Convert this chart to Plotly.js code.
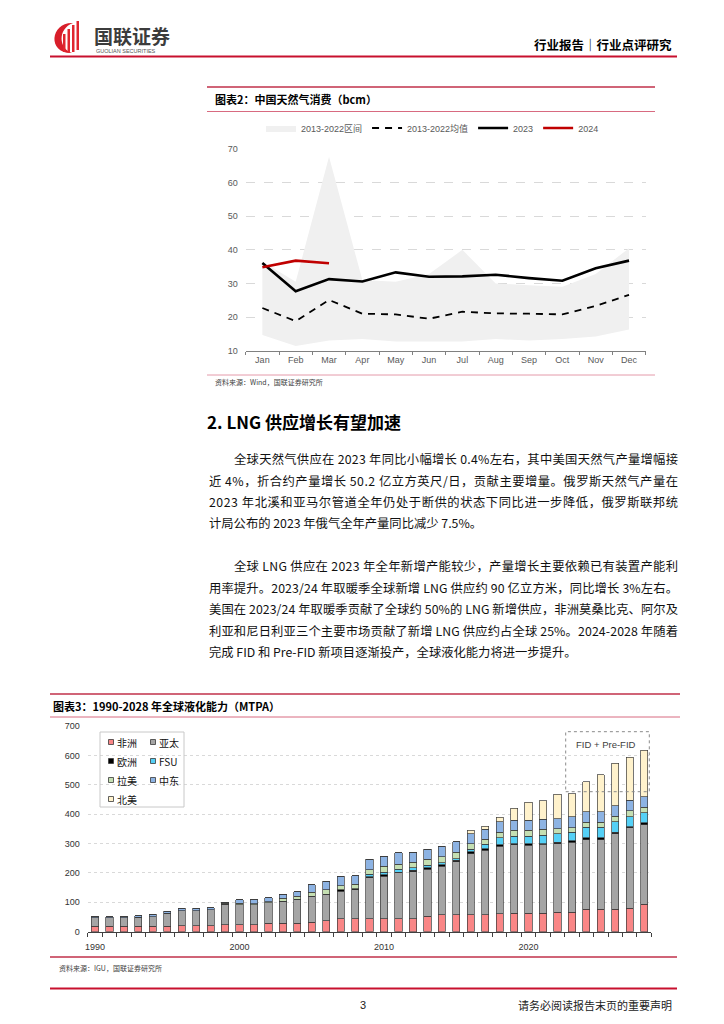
<!DOCTYPE html>
<html><head><meta charset="utf-8">
<script src="https://cdn.plot.ly/plotly-3.0.1.min.js"></script>
<style>html,body{margin:0;padding:0;background:#fff}#page{width:724px;height:1024px}</style>
</head><body><div id="page"></div>
<script>
// ---------- Chart 1: 中国天然气消费 (bcm) ----------
const months = ['Jan','Feb','Mar','Apr','May','Jun','Jul','Aug','Sep','Oct','Nov','Dec'];
const rangeLow  = [14.7, 11.4, 13.0, 13.5, 12.7, 12.7, 12.7, 13.5, 13.0, 13.5, 14.2, 16.3];
const rangeHigh = [36.5, 30.5, 67.7, 31.0, 30.5, 32.8, 40.0, 30.0, 29.5, 29.0, 32.8, 40.5];
const avg1322   = [22.7, 18.8, 25.1, 21.0, 20.8, 19.5, 21.6, 21.1, 21.0, 20.8, 23.3, 26.6];
const cons2023  = [36.1, 27.7, 31.3, 30.6, 33.3, 32.0, 32.1, 32.6, 31.6, 30.8, 34.5, 36.8];
const cons2024  = [34.8, 36.8, 36.0];
const chart1Names = ['2013-2022区间','2013-2022均值','2023','2024'];

// ---------- Chart 2: 1990-2028 全球液化能力 (MTPA) ----------
const years = [1990,1991,1992,1993,1994,1995,1996,1997,1998,1999,2000,2001,2002,2003,2004,2005,2006,2007,2008,2009,2010,2011,2012,2013,2014,2015,2016,2017,2018,2019,2020,2021,2022,2023,2024,2025,2026,2027,2028];
const africa  = [19,19,19,19,19,19,20,20,20,24,24,24,28,28,28,33,37,44,44,44,44,44,44,53,57,57,57,57,61,62,62,62,66,66,76,76,76,79,93];
const asiaPac = [28,28,28,31,32,44,52,52,54,69,68,67,70,76,82,87,90,94,98,139,144,156,160,159,166,181,209,221,230,234,232,235,234,238,237,237,257,274,271];
const europe  = [0,0,0,0,0,0,0,0,0,0,0,0,0,0,0,0,0,5,4,4,5,3,5,6,5,5,6,5,5,3,5,3,5,6,6,6,5,4,6];
const fsu     = [0,0,0,0,0,0,0,0,0,0,0,0,0,0,0,0,0,0,0,8,9,9,8,8,7,6,8,14,23,25,25,28,28,28,36,36,37,35,35];
const latam   = [0,0,0,0,0,0,0,0,0,3,4,4,4,9,10,15,15,14,15,15,20,18,19,20,20,22,19,18,20,21,21,20,17,16,18,18,18,20,19];
const mideast = [4,4,4,5,8,7,7,7,8,5,12,13,14,14,16,25,29,31,30,36,34,38,35,34,36,35,35,33,35,35,35,34,35,37,35,35,36,35,35];
const northAm = [0,0,0,0,0,0,0,0,0,0,0,0,0,0,0,0,0,0,0,0,0,0,0,0,0,0,11,11,15,40,60,64,82,79,103,126,145,146,158];
const regionNames = ['非洲','亚太','欧洲','FSU','拉美','中东','北美'];
const yearTicks = [1990,2000,2010,2020];

const regionSeries = [africa, asiaPac, europe, fsu, latam, mideast, northAm];
const regionColors = ['#F98686','#A5A5A5','#000000','#55D0F6','#C5DFB2','#8DB3E3','#FFF2CC'];

const W = 724, H = 1024;
const px = x => x / W, py = y => 1 - y / H;
const CJK = "'Noto Sans CJK SC', 'Liberation Sans', sans-serif";
const LAT = "'Liberation Sans', 'Noto Sans CJK SC', sans-serif";

const traces = [];
traces.push({x: months, y: rangeLow, type:'scatter', mode:'lines', line:{width:0, color:'#F2F2F2'}, showlegend:false, hoverinfo:'skip', xaxis:'x', yaxis:'y'});
traces.push({x: months, y: rangeHigh, type:'scatter', mode:'lines', fill:'tonexty', fillcolor:'#F0F0F0', line:{width:0, color:'#F0F0F0'}, name: chart1Names[0], xaxis:'x', yaxis:'y'});
traces.push({x: months, y: avg1322, type:'scatter', mode:'lines', line:{width:1.8, color:'#000', dash:'7px,6px'}, name: chart1Names[1], xaxis:'x', yaxis:'y'});
traces.push({x: months, y: cons2023, type:'scatter', mode:'lines', line:{width:2.6, color:'#000'}, name: chart1Names[2], xaxis:'x', yaxis:'y'});
traces.push({x: months.slice(0, cons2024.length), y: cons2024, type:'scatter', mode:'lines', line:{width:2.6, color:'#C00000'}, name: chart1Names[3], xaxis:'x', yaxis:'y'});

regionSeries.forEach((s, i) => {
  traces.push({x: years, y: s, type:'bar', name: regionNames[i], width:0.5, showlegend:false,
    marker:{color: regionColors[i], line:{color:'#3A3A3A', width:0.7}}, xaxis:'x2', yaxis:'y2'});
});

// text justification helper
const ctx = document.createElement('canvas').getContext('2d');
function justify(line, size, target, family){
  ctx.font = size + 'px ' + family;
  const w = ctx.measureText(line).width;
  const n = Array.from(line).length;
  let ls = (target - w) / (n - 1);
  ls = Math.max(-1.5, Math.min(3, ls));
  return '<span style="letter-spacing:' + ls.toFixed(3) + 'px">' + line + '</span>';
}

const shapes = [];
const annotations = [];
function hline(x0, x1, y, color, width){
  shapes.push({type:'line', xref:'paper', yref:'paper', x0:px(x0), x1:px(x1), y0:py(y), y1:py(y), line:{color:color, width:width}});
}
function txt(x, y, text, size, opts){
  annotations.push(Object.assign({xref:'paper', yref:'paper', x:px(x), y:py(y), text:text, showarrow:false,
    xanchor:'left', yanchor:'middle', font:{size:size, color:'#000', family:CJK}}, opts || {}));
}
function pathFrom(pts){
  return pts.map(p => p[0] + p.slice(1).map((v, k) => (k % 2 === 0 ? px(v) : py(v)).toFixed(5)).join(',')).join(' ');
}

// Header
hline(50, 677, 56.5, '#C8102E', 2);
shapes.push({type:'path', xref:'paper', yref:'paper', fillcolor:'#D81E2A', line:{width:0},
  path: pathFrom([['M',73,23],['C',50,22,47,54,72,53],['C',59,49,57,29,73,23],['Z']])});
[[63,34,65.5,52],[67.5,29,70,52.5],[72,25,74.5,52],[76.5,21,79,50]].forEach(r => {
  shapes.push({type:'rect', xref:'paper', yref:'paper', x0:px(r[0]), x1:px(r[2]), y0:py(r[3]), y1:py(r[1]), fillcolor:'#E0262F', line:{width:0}});
});
txt(92, 35, '<b>国联证券</b>', 19, {font:{size:19, color:'#3C3C3C', family:CJK}});
txt(94, 51, 'GUOLIAN SECURITIES', 5.5, {font:{size:5.5, color:'#555', family:LAT}});
txt(674, 44, '<b>行业报告｜行业点评研究</b>', 12.5, {xanchor:'right'});

// Chart 1 frame
hline(207, 655, 87, '#C0304A', 1.5);
hline(207, 655, 111.5, '#D86A80', 1);
hline(207, 655, 375, '#E49AAA', 1);
txt(213, 99, '<b>图表2：中国天然气消费（bcm）</b>', 11);
txt(213, 381.5, '资料来源：Wind，国联证券研究所', 7, {font:{size:7, color:'#404040', family:CJK}});

// Section heading and body text
txt(205, 421, '<b>2. LNG 供应增长有望加速</b>', 17);
const BODY = 12.3;
const p1 = ['全球天然气供应在 2023 年同比小幅增长 0.4%左右，其中美国天然气产量增幅接',
            '近 4%，折合约产量增长 50.2 亿立方英尺/日，贡献主要增量。俄罗斯天然气产量在',
            '2023 年北溪和亚马尔管道全年仍处于断供的状态下同比进一步降低，俄罗斯联邦统',
            '计局公布的 2023 年俄气全年产量同比减少 7.5%。'];
const p2 = ['全球 LNG 供应在 2023 年全年新增产能较少，产量增长主要依赖已有装置产能利',
            '用率提升。2023/24 年取暖季全球新增 LNG 供应约 90 亿立方米，同比增长 3%左右。',
            '美国在 2023/24 年取暖季贡献了全球约 50%的 LNG 新增供应，非洲莫桑比克、阿尔及',
            '利亚和尼日利亚三个主要市场贡献了新增 LNG 供应约占全球 25%。2024-2028 年随着',
            '完成 FID 和 Pre-FID 新项目逐渐投产，全球液化能力将进一步提升。'];
const p1y = [459, 481, 502, 523], p2y = [566, 588, 609, 631, 652];
function para(lines, ys){
  lines.forEach((l, i) => {
    const x0 = i === 0 ? 232 : 207;
    const last = i === lines.length - 1;
    const t = last ? l : justify(l, BODY, 676 - x0, CJK);
    txt(x0, ys[i], t, BODY, {font:{size:BODY, color:'#111', family:CJK}});
  });
}
para(p1, p1y); para(p2, p2y);

// Chart 2 frame
hline(50, 680, 694, '#C0304A', 1.5);
hline(50, 680, 717, '#D86A80', 1);
hline(50, 677, 957, '#C0304A', 1.5);
txt(51, 706, '<b>图表3：1990-2028 年全球液化能力（MTPA）</b>', 11);
txt(57, 967.5, '资料来源：IGU，国联证券研究所', 7, {font:{size:7, color:'#404040', family:CJK}});

// Chart 2 legend (manual, 2 columns)
shapes.push({type:'rect', xref:'paper', yref:'paper', x0:px(100), x1:px(184), y0:py(807), y1:py(732), line:{color:'#C8C8C8', width:1}, fillcolor:'rgba(255,255,255,0)'});
const legColX = [111, 153], legRowY = [742, 761, 780, 799];
regionNames.forEach((n, i) => {
  const cx = legColX[i % 2], cy = legRowY[Math.floor(i / 2)];
  shapes.push({type:'rect', xref:'paper', yref:'paper', x0:px(cx - 2.5), x1:px(cx + 2.5), y0:py(cy + 2.5), y1:py(cy - 2.5), fillcolor:regionColors[i], line:{color:'#3A3A3A', width:0.8}});
  txt(cx + 3.5, cy, n, 10, {font:{size:10, color:'#111', family:CJK}});
});
// FID + Pre-FID box
shapes.push({type:'rect', xref:'paper', yref:'paper', x0:px(565.7), x1:px(649.3), y0:py(791.7), y1:py(731.7), line:{color:'#8A8A8A', width:1, dash:'dot'}, fillcolor:'rgba(255,255,255,0)'});
txt(606, 744.5, 'FID + Pre-FID', 9.5, {xanchor:'center', font:{size:9.5, color:'#404040', family:LAT}});

// Footer
hline(50, 677, 988.5, '#C8102E', 2);
txt(363, 1005, '3', 11, {xanchor:'center', font:{size:11, color:'#222', family:LAT}});
txt(674, 1005, '请务必阅读报告末页的重要声明', 11, {xanchor:'right', font:{size:11, color:'#222', family:CJK}});

const layout = {
  width: W, height: H, margin:{l:0, r:0, t:0, b:0},
  paper_bgcolor:'#fff', plot_bgcolor:'rgba(0,0,0,0)',
  font:{family:LAT, size:9, color:'#595959'},
  showlegend:true,
  legend:{orientation:'h', x:px(261), y:py(128), xanchor:'left', yanchor:'middle', font:{size:9, color:'#595959', family:LAT}, bgcolor:'rgba(0,0,0,0)', traceorder:'normal'},
  barmode:'stack', bargap:0.5,
  xaxis:{domain:[px(245.7), px(645.7)], anchor:'y', type:'category', range:[-0.5, 11.5], tickson:'boundaries',
    ticks:'outside', ticklen:3, tickcolor:'#808080', showline:true, linecolor:'#808080', linewidth:1, showgrid:false,
    tickfont:{size:9, color:'#595959'}, fixedrange:true},
  yaxis:{domain:[py(350.7), py(149)], anchor:'x', range:[10, 70], dtick:10, showgrid:true, gridcolor:'#D9D9D9', griddash:'dash',
    gridwidth:1, zeroline:false, showline:false, ticks:'', ticklabelstandoff:7, tickfont:{size:9, color:'#595959'}, fixedrange:true},
  xaxis2:{domain:[px(87.8), px(651.4)], anchor:'y2', range:[1989.5, 2028.5], tickvals:yearTicks, ticktext:yearTicks.map(String), ticks:'',
    showline:true, linecolor:'#404040', linewidth:1, showgrid:false, zeroline:false, ticklabelstandoff:6,
    minor:{tick0:1989.5, dtick:1, ticks:'outside', ticklen:4, tickcolor:'#404040', showgrid:false},
    tickfont:{size:9, color:'#333'}, fixedrange:true},
  yaxis2:{domain:[py(931.7), py(726)], anchor:'x2', range:[0, 700], dtick:100, showgrid:true, gridcolor:'#D9D9D9', griddash:'dot',
    zeroline:false, showline:false, ticks:'', ticklabelstandoff:7, tickfont:{size:9, color:'#333'}, fixedrange:true},
  shapes: shapes, annotations: annotations
};
Plotly.newPlot('page', traces, layout, {displayModeBar:false, staticPlot:true});
</script></body></html>
